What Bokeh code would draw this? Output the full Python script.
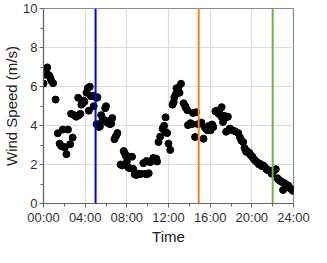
from bokeh.plotting import figure
from bokeh.models import FixedTicker, Span, Range1d, ColumnDataSource
from bokeh.embed import file_html
from bokeh.resources import INLINE

# Time of day in hours
hours = [
    0.00, 0.10, 0.20, 0.36, 0.45, 0.55, 0.65, 0.75, 0.92, 1.16,
    1.37, 1.55, 1.70, 1.85, 1.95, 2.05, 2.20, 2.35, 2.56, 2.65,
    2.80, 2.95, 3.15, 3.33, 3.40, 3.54, 3.63, 3.75, 3.84, 3.93,
    4.13, 4.25, 4.35, 4.44, 4.55, 4.73, 4.82, 5.09, 5.10, 5.18,
    5.25, 5.33, 5.42, 5.54, 5.65, 5.78, 5.92, 6.00, 6.10, 6.22,
    6.37, 6.50, 6.60, 6.81, 6.95, 7.10, 7.40, 7.55, 7.70, 7.80,
    7.90, 8.00, 8.10, 8.15, 8.30, 8.50, 8.60, 8.75, 8.90, 9.05,
    9.20, 9.35, 9.58, 9.75, 9.88, 9.94, 10.10, 10.24, 10.40, 10.54,
    10.70, 10.83, 10.90, 11.04, 11.20, 11.43, 11.58, 11.67, 11.72, 11.87,
    12.00, 12.17, 12.38, 12.50, 12.56, 12.70, 12.77, 12.95, 13.06, 13.20,
    13.45, 13.60, 13.66, 13.80, 13.87, 14.10, 14.26, 14.35, 14.55, 14.64,
    14.85, 15.00, 15.15, 15.36, 15.50, 15.60, 15.74, 15.90, 16.04, 16.19,
    16.30, 16.50, 16.63, 16.80, 16.93, 17.08, 17.10, 17.23, 17.35, 17.44,
    17.53, 17.70, 17.83, 17.90, 18.10, 18.40, 18.70, 18.87, 19.00, 19.17,
    19.30, 19.40, 19.46, 19.60, 19.76, 19.85, 20.00, 20.07, 20.20, 20.36,
    20.50, 20.60, 20.70, 20.80, 20.95, 21.10, 21.25, 21.40, 21.55, 21.70,
    21.90, 22.00, 22.15, 22.30, 22.45, 22.60, 22.75, 22.90, 23.00, 23.10,
    23.20, 23.35, 23.50, 23.63, 23.75, 23.93,
]

# Wind speed (m/s)
wind_speed = [
    6.15, 6.60, 6.75, 6.98, 6.60, 6.55, 6.45, 6.30, 6.17, 5.33,
    3.60, 3.07, 2.95, 3.79, 2.90, 2.87, 2.53, 3.79, 3.04, 4.60,
    3.38, 4.53, 4.45, 5.42, 4.53, 4.60, 5.07, 5.14, 5.28, 5.22,
    5.68, 5.91, 4.76, 5.99, 5.50, 5.53, 4.99, 5.42, 4.07, 5.45,
    4.00, 3.92, 3.96, 4.53, 4.25, 4.30, 4.89, 4.99, 4.15, 4.22,
    4.07, 4.10, 4.38, 3.30, 3.45, 3.61, 2.00, 1.95, 2.69, 2.58,
    2.45, 2.15, 2.42, 1.84, 1.81, 2.40, 1.78, 1.50, 1.46, 1.53,
    1.50, 1.52, 2.07, 1.52, 2.18, 1.50, 1.55, 2.12, 2.20, 2.33,
    2.30, 2.30, 2.15, 3.15, 3.43, 3.84, 3.99, 3.68, 4.42, 3.61,
    3.07, 2.75, 5.07, 5.20, 5.45, 5.60, 5.91, 5.95, 5.68, 6.14,
    5.14, 5.00, 4.91, 4.79, 4.02, 4.12, 4.07, 4.64, 3.41, 4.68,
    4.07, 4.10, 4.15, 3.32, 3.90, 3.84, 3.76, 3.99, 3.76, 4.05,
    3.92, 4.73, 4.76, 4.60, 4.60, 4.45, 4.94, 4.18, 4.50, 4.38,
    3.68, 4.45, 3.80, 3.84, 3.76, 3.70, 3.61, 3.38, 3.22, 3.15,
    2.84, 2.75, 2.65, 2.65, 2.60, 2.50, 2.42, 2.38, 2.27, 2.18,
    2.12, 2.07, 2.00, 2.03, 1.92, 1.95, 1.87, 1.76, 1.70, 1.69,
    1.53, 1.60, 1.70, 1.76, 1.30, 1.20, 1.15, 1.10, 0.69, 1.05,
    1.00, 0.95, 0.92, 0.80, 0.75, 0.65,
]

# Marked event times (hours) and their colours
event_times = [5.0, 14.9, 22.0]
event_colors = ["#0000ff", "#f7821e", "#76b043"]

x_ticks = [0, 4, 8, 12, 16, 20, 24]
x_tick_labels = ["00:00", "04:00", "08:00", "12:00", "16:00", "20:00", "24:00"]
x_minor = [2, 6, 10, 14, 18, 22]
y_ticks = [0, 2, 4, 6, 8, 10]
y_minor = [1, 3, 5, 7, 9]

FONT = "Liberation Sans"

p = figure(width=311, height=247, output_backend="svg", toolbar_location=None,
           x_range=Range1d(0, 24), y_range=Range1d(0, 10),
           min_border_left=2, min_border_right=18, min_border_top=8, min_border_bottom=0)

p.outline_line_color = "#8c8c8c"
p.outline_line_width = 1.2
p.background_fill_color = "white"
p.border_fill_color = "white"

p.xaxis.ticker = FixedTicker(ticks=x_ticks, minor_ticks=x_minor)
p.xaxis.major_label_overrides = {t: l for t, l in zip(x_ticks, x_tick_labels)}
p.yaxis.ticker = FixedTicker(ticks=y_ticks, minor_ticks=y_minor)

p.xaxis.axis_label = "Time"
p.yaxis.axis_label = "Wind Speed (m/s)"

for ax in (p.xaxis, p.yaxis):
    ax.axis_label_text_font = FONT
    ax.axis_label_text_font_style = "normal"
    ax.axis_label_text_font_size = "15px"
    ax.axis_label_text_color = "#222222"
    ax.major_label_text_font = FONT
    ax.major_label_text_font_size = "13px"
    ax.major_label_text_color = "#333333"
    ax.axis_line_color = "#666666"
    ax.axis_line_width = 1.2
    ax.major_tick_line_color = "#666666"
    ax.minor_tick_line_color = "#666666"
    ax.major_tick_in = 0
    ax.major_tick_out = 4
    ax.minor_tick_in = 0
    ax.minor_tick_out = 3
    ax.major_label_standoff = 2
    ax.axis_label_standoff = 0

p.xgrid.ticker = FixedTicker(ticks=x_ticks)
p.ygrid.ticker = FixedTicker(ticks=y_ticks)
p.grid.grid_line_color = "#dcdcdc"
p.grid.grid_line_width = 1.2

src = ColumnDataSource(data=dict(x=hours, y=wind_speed))
p.scatter("x", "y", source=src, size=7, color="black")

for t, c in zip(event_times, event_colors):
    p.add_layout(Span(location=t, dimension="height", line_color=c, line_width=2))

open("out.html", "w").write(file_html(p, INLINE))
